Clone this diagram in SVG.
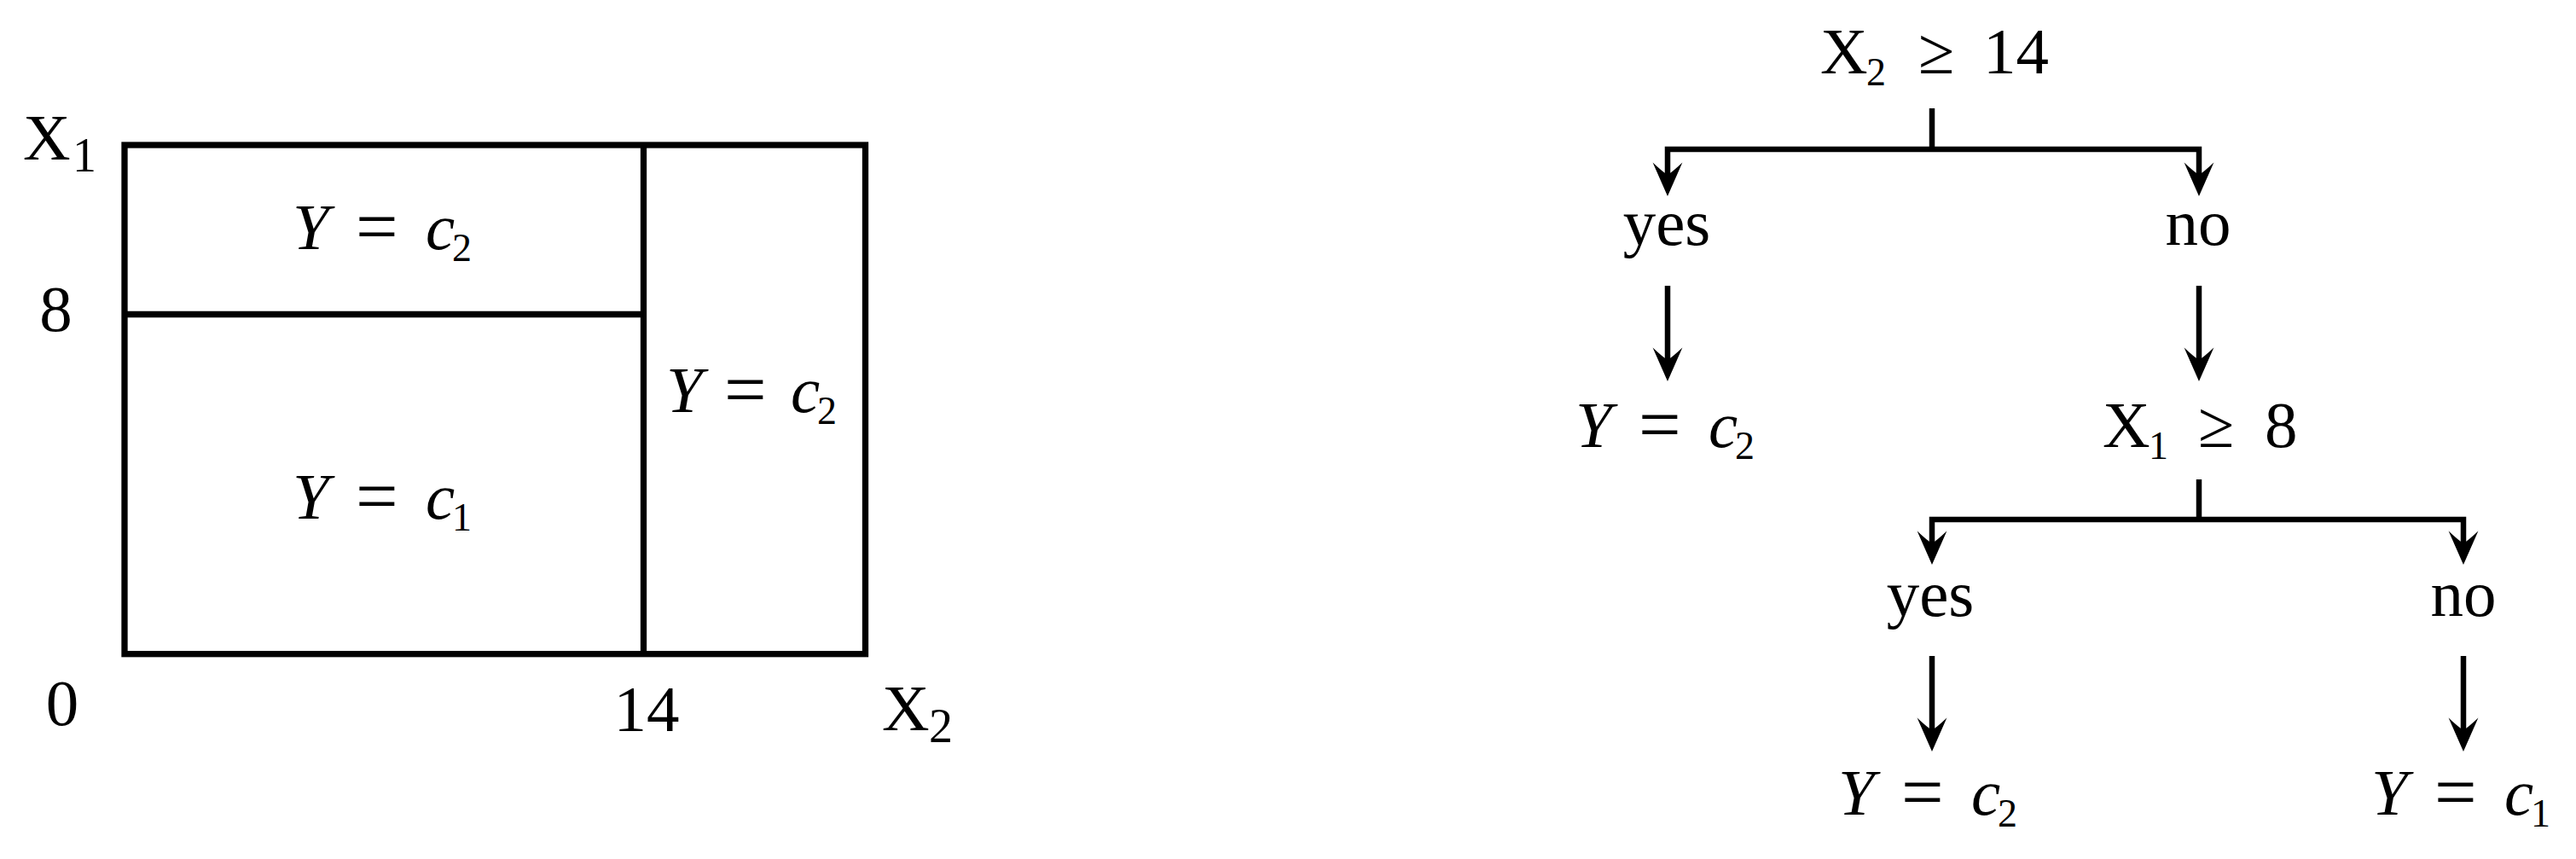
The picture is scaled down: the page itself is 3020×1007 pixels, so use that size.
<svg xmlns="http://www.w3.org/2000/svg" width="3020" height="1007" viewBox="0 0 3020 1007">
<style>
.t{font-family:"Liberation Serif","DejaVu Serif",serif;font-size:77px;fill:#000}
.i{font-style:italic}
.s{font-size:46px}
.sl{font-size:56px}
.eq{font-size:88px}
.box{fill:none;stroke:#000;stroke-width:7.3;stroke-linejoin:miter}
.ln{fill:none;stroke:#000;stroke-width:6.5;stroke-linejoin:miter;stroke-linecap:butt}
</style>
<defs>
<marker id="ah" markerUnits="userSpaceOnUse" orient="auto" refX="0" refY="0" markerWidth="60" markerHeight="60" viewBox="-20 -20 50 40" overflow="visible">
<path d="M20,0 L-13,-14.5 Q-4,-5 -1,0 Q-4,5 -13,14.5 Z" fill="#000"/>
</marker>
</defs>
<rect width="3020" height="1007" fill="#fff"/>

<g id="partition">
<rect class="box" x="146" y="170" width="868.5" height="596.7"/>
<line class="box" x1="754.5" y1="170" x2="754.5" y2="766.7"/>
<line class="box" x1="146" y1="368.5" x2="754.5" y2="368.5"/>
<text class="t" y="187"><tspan x="27">X</tspan><tspan class="sl" x="85" y="201">1</tspan></text>
<text class="t" x="65.5" y="388" text-anchor="middle">8</text>
<text class="t" x="73" y="850" text-anchor="middle">0</text>
<text class="t" x="758" y="857" text-anchor="middle">14</text>
<text class="t" y="856"><tspan x="1034">X</tspan><tspan class="sl" x="1089" y="870">2</tspan></text>
<text class="t" y="292"><tspan class="i" x="343">Y</tspan><tspan class="eq" x="417" y="295">=</tspan><tspan class="i" x="499" y="292">c</tspan><tspan class="s" x="530" y="306">2</tspan></text>
<text class="t" y="608"><tspan class="i" x="343">Y</tspan><tspan class="eq" x="417" y="611">=</tspan><tspan class="i" x="499" y="608">c</tspan><tspan class="s" x="530" y="622">1</tspan></text>
<text class="t" y="483"><tspan class="i" x="781">Y</tspan><tspan class="eq" x="849" y="486">=</tspan><tspan class="i" x="927" y="483">c</tspan><tspan class="s" x="958" y="497">2</tspan></text>
</g>

<g id="connectors">
<path class="ln" d="M2265,127 V175"/>
<path class="ln" d="M2265,175 H1955 V206" marker-end="url(#ah)"/>
<path class="ln" d="M2265,175 H2578 V206" marker-end="url(#ah)"/>
<path class="ln" d="M1955,335 V423" marker-end="url(#ah)"/>
<path class="ln" d="M2578,335 V423" marker-end="url(#ah)"/>
<path class="ln" d="M2578,562 V609"/>
<path class="ln" d="M2578,609 H2265 V638" marker-end="url(#ah)"/>
<path class="ln" d="M2578,609 H2888 V638" marker-end="url(#ah)"/>
<path class="ln" d="M2265,769 V857" marker-end="url(#ah)"/>
<path class="ln" d="M2888,769 V857" marker-end="url(#ah)"/>
</g>

<g id="root">
<text class="t" y="86"><tspan x="2134">X</tspan><tspan class="s" x="2188" y="100">2</tspan><tspan x="2249" y="86">≥</tspan><tspan x="2325">14</tspan></text>
</g>
<g id="yes1"><text class="t" x="1954" y="287" text-anchor="middle">yes</text></g>
<g id="no1"><text class="t" x="2577" y="287" text-anchor="middle">no</text></g>
<g id="leaf1">
<text class="t" y="524"><tspan class="i" x="1847">Y</tspan><tspan class="eq" x="1921" y="527">=</tspan><tspan class="i" x="2003" y="524">c</tspan><tspan class="s" x="2034" y="538">2</tspan></text>
</g>
<g id="split2">
<text class="t" y="524"><tspan x="2465">X</tspan><tspan class="s" x="2519" y="538">1</tspan><tspan x="2577" y="524">≥</tspan><tspan x="2655">8</tspan></text>
</g>
<g id="yes2"><text class="t" x="2263" y="722" text-anchor="middle">yes</text></g>
<g id="no2"><text class="t" x="2888" y="722" text-anchor="middle">no</text></g>
<g id="leaf2">
<text class="t" y="955"><tspan class="i" x="2155">Y</tspan><tspan class="eq" x="2229" y="958">=</tspan><tspan class="i" x="2311" y="955">c</tspan><tspan class="s" x="2342" y="969">2</tspan></text>
</g>
<g id="leaf3">
<text class="t" y="955"><tspan class="i" x="2780">Y</tspan><tspan class="eq" x="2854" y="958">=</tspan><tspan class="i" x="2936" y="955">c</tspan><tspan class="s" x="2967" y="969">1</tspan></text>
</g>
</svg>
